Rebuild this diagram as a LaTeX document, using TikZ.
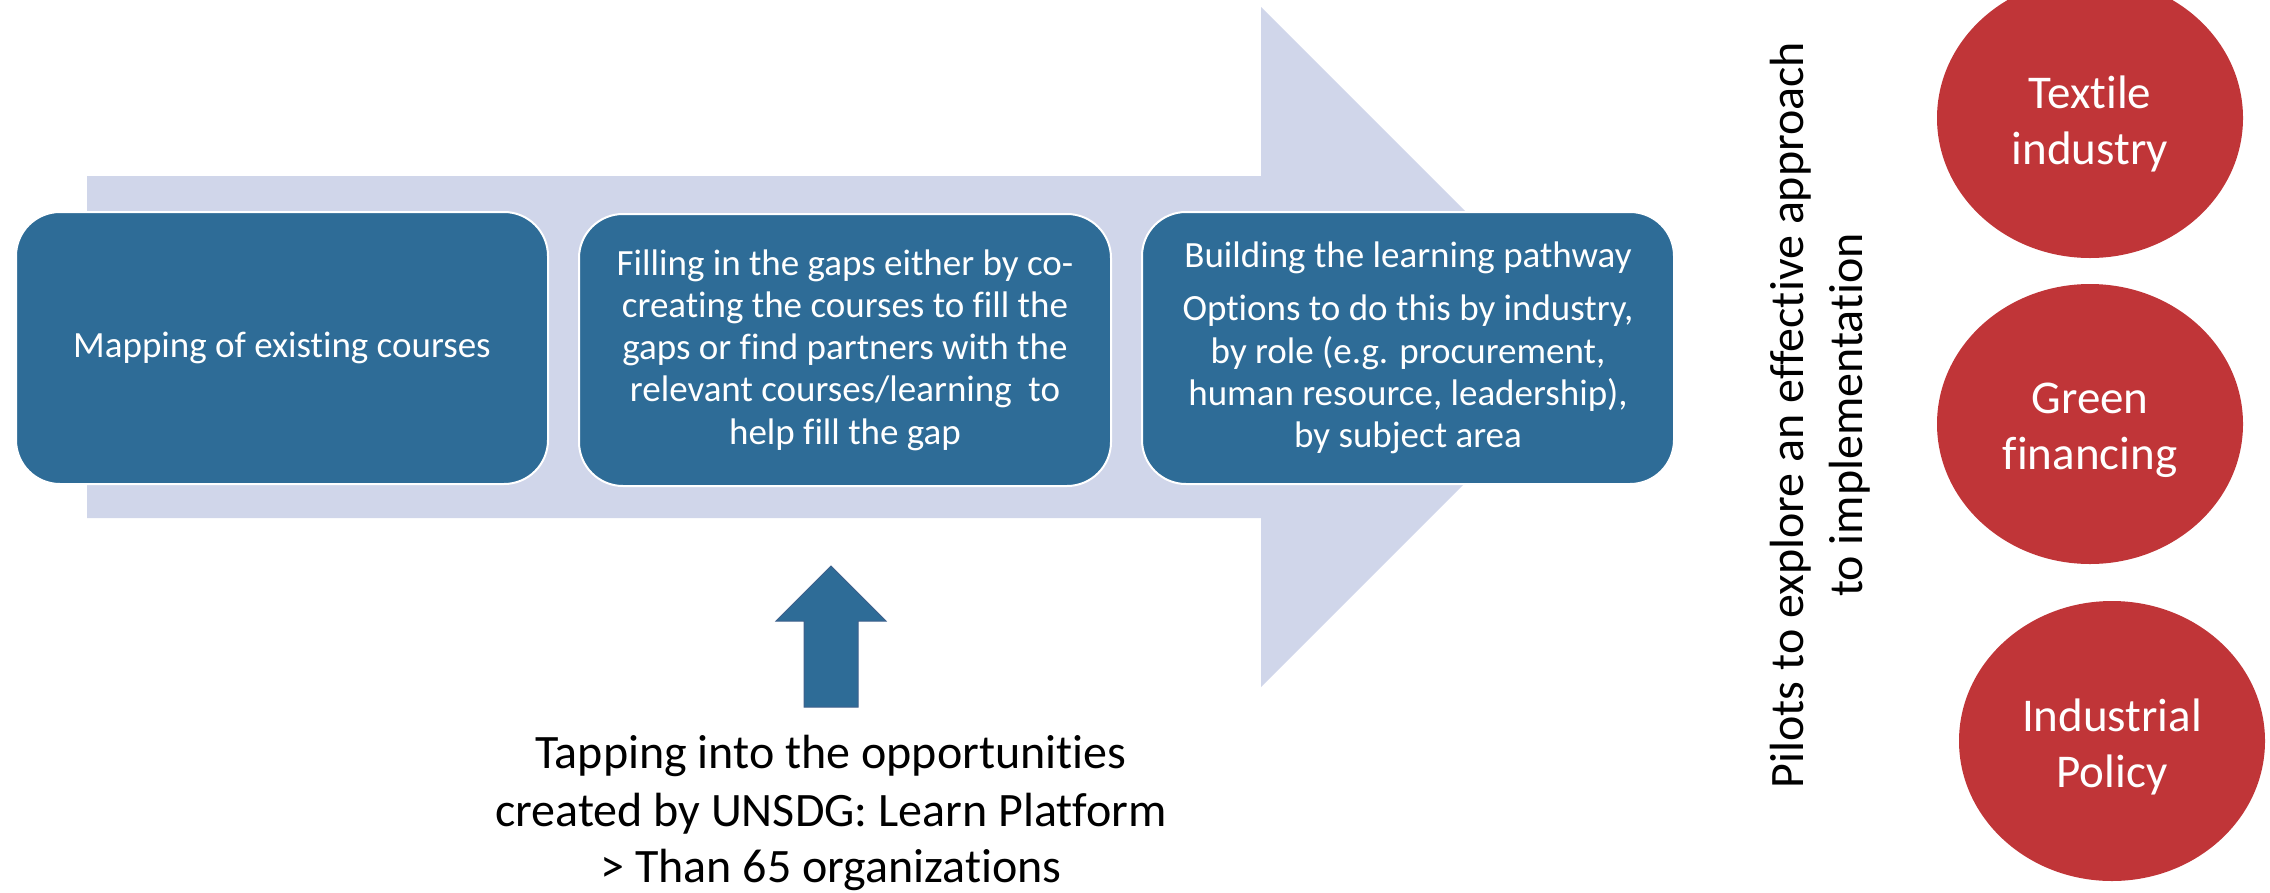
\documentclass[tikz,border=0pt]{standalone}
\usepackage{fontspec}
\setmainfont{Carlito}[Ligatures=NoCommon]
\usetikzlibrary{shapes.geometric}
\definecolor{boxblue}{RGB}{46,108,151}
\definecolor{arrowlight}{RGB}{208,214,234}
\definecolor{pilotred}{RGB}{192,53,56}
\definecolor{arrowedge}{RGB}{62,96,140}
\tikzset{
  stepbox/.style={draw=white, line width=2pt, fill=boxblue, rounded corners=44pt,
    minimum width=532pt, minimum height=272pt, text=white, align=center,
    font=\fontsize{37}{42.2}\selectfont, inner sep=0pt},
  pilot/.style={ellipse, fill=pilotred, minimum width=306pt, minimum height=280pt, inner sep=0pt},
  pilottext/.style={text=white, align=center, font=\fontsize{47}{56}\selectfont, inner sep=0pt},
  bigtext/.style={align=center, font=\fontsize{48}{58.5}\selectfont, text=black, inner sep=0pt}
}
\begin{document}
\begin{tikzpicture}[x=1pt,y=-1pt]
\useasboundingbox (0,0) rectangle (2270,892);
% big light arrow
\fill[arrowlight] (87,176) -- (1261,176) -- (1261,7) -- (1601,347) -- (1261,687) -- (1261,518) -- (87,518) -- cycle;
% process boxes
\node[stepbox] (b1) at (282,348) {Mapping of existing courses};
\node[stepbox] (b2) at (845,350) {Filling in the gaps either by co-\\creating the courses to fill the\\gaps or find partners with the\\relevant courses/learning\ \ to\\help fill the gap};
\node[stepbox] (b3) at (1408,348) {Building the learning pathway\\[11pt]Options to do this by industry,\\by role (e.g. procurement,\\human resource, leadership),\\by subject area};
% small up arrow
\draw[fill=boxblue, draw=arrowedge, line width=1pt] (804,707) -- (804,621) -- (776,621) -- (831,566) -- (886,621) -- (858,621) -- (858,707) -- cycle;
\coordinate (uptip) at (831,566);
% bottom text
\node[bigtext, anchor=base] (tap) at (831,768) {Tapping into the opportunities};
\node[bigtext, anchor=base] (tap2) at (831,826) {created by UNSDG: Learn Platform};
\node[bigtext, anchor=base] (tap3) at (831,882) {> Than 65 organizations};
% vertical text
\node[bigtext, rotate=90] (pilots) at (1820,415) {Pilots to explore an effective approach\\to implementation};
% pilot circles
\node[pilot] (p1) at (2090,118) {};
\node[pilot] (p2) at (2090,424) {};
\node[pilot] (p3) at (2112,741) {};
\node[pilottext] (t1) at ([yshift=-6pt]p1.center) {Textile\\industry};
\node[pilottext] (t2) at ([yshift=-6pt]p2.center) {Green\\financing};
\node[pilottext] (t3) at ([yshift=-6pt]p3.center) {Industrial\\Policy};
\end{tikzpicture}
\end{document}
